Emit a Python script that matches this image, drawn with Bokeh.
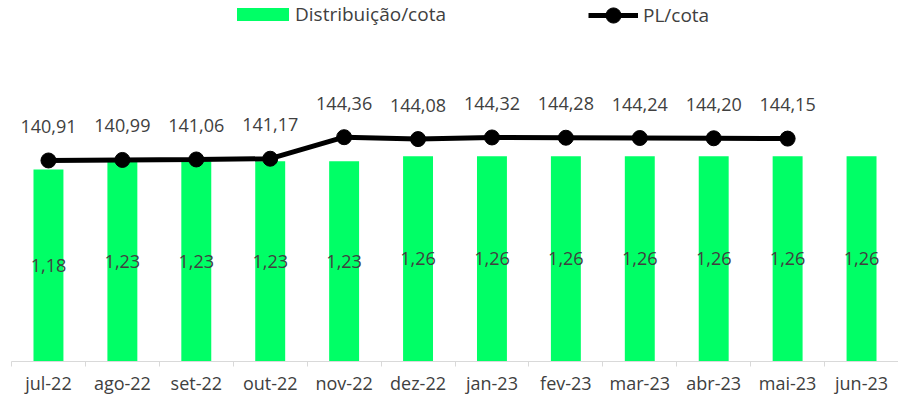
from bokeh.plotting import figure
from bokeh.models import Range1d, FixedTicker, Legend, LegendItem
from bokeh.embed import file_html
from bokeh.resources import INLINE

months = ["jul-22", "ago-22", "set-22", "out-22", "nov-22", "dez-22",
          "jan-23", "fev-23", "mar-23", "abr-23", "mai-23", "jun-23"]
distribuicao = [1.18, 1.23, 1.23, 1.23, 1.23, 1.26, 1.26, 1.26, 1.26, 1.26, 1.26, 1.26]
pl_cota = [140.91, 140.99, 141.06, 141.17, 144.36, 144.08, 144.32, 144.28, 144.24, 144.20, 144.15]


def fmt(v):
    return f"{v:.2f}".replace(".", ",")


GREEN = "#00FF66"
TXT = "#404040"
FONT = "Open Sans"

x = [i + 0.5 for i in range(len(months))]
x_pl = x[:len(pl_cota)]

p = figure(frame_width=887, frame_height=361, x_range=Range1d(0, len(months)),
           y_range=Range1d(0, 2.2174), output_backend="svg", toolbar_location=None,
           min_border_left=11, min_border_right=0, min_border_top=0, min_border_bottom=30,
           y_axis_location=None)
p.extra_y_ranges = {"pl": Range1d(111.13, 164.61)}

bars = p.vbar(x=x, top=distribuicao, width=0.405, fill_color=GREEN, line_color=None)
p.text(x=x, y=[d / 2 for d in distribuicao], text=[fmt(d) for d in distribuicao],
       text_align="center", text_baseline="middle", text_font_size="18px",
       text_color=TXT, text_font={"value": FONT})

line = p.line(x=x_pl, y=pl_cota, y_range_name="pl", line_width=5, line_color="black")
pts = p.scatter(x=x_pl, y=pl_cota, y_range_name="pl", size=15, fill_color="black", line_color="black")
p.text(x=x_pl, y=pl_cota, y_range_name="pl", text=[fmt(v) for v in pl_cota],
       text_align="center", text_baseline="middle", y_offset=-34, text_font_size="18px",
       text_color=TXT, text_font={"value": FONT})

ax = p.xaxis[0]
ax.ticker = FixedTicker(ticks=x, minor_ticks=list(range(len(months) + 1)))
ax.major_label_overrides = {xi: m for xi, m in zip(x, months)}
ax.major_tick_line_color = None
ax.major_tick_out = 0
ax.major_tick_in = 0
ax.minor_tick_line_color = "#D9D9D9"
ax.minor_tick_out = 5
ax.minor_tick_in = 0
ax.axis_line_color = "#D9D9D9"
ax.major_label_text_font_size = "18px"
ax.major_label_text_color = TXT
ax.major_label_text_font = FONT
ax.major_label_standoff = 4

p.grid.visible = False
p.outline_line_color = None

common = dict(orientation="horizontal", padding=0, margin=0, border_line_color=None,
              background_fill_alpha=0, label_text_font_size="19px", label_text_color=TXT,
              label_text_font=FONT)
leg1 = Legend(items=[LegendItem(label="Distribuição/cota", renderers=[bars])],
              location=(219, 334), glyph_width=65, glyph_height=16, label_standoff=0, **common)
leg2 = Legend(items=[LegendItem(label="PL/cota", renderers=[line, pts])],
              location=(577, 327), glyph_width=50, glyph_height=38, label_standoff=5, **common)
p.add_layout(leg1)
p.add_layout(leg2)

open("out.html", "w").write(file_html(p, INLINE))
